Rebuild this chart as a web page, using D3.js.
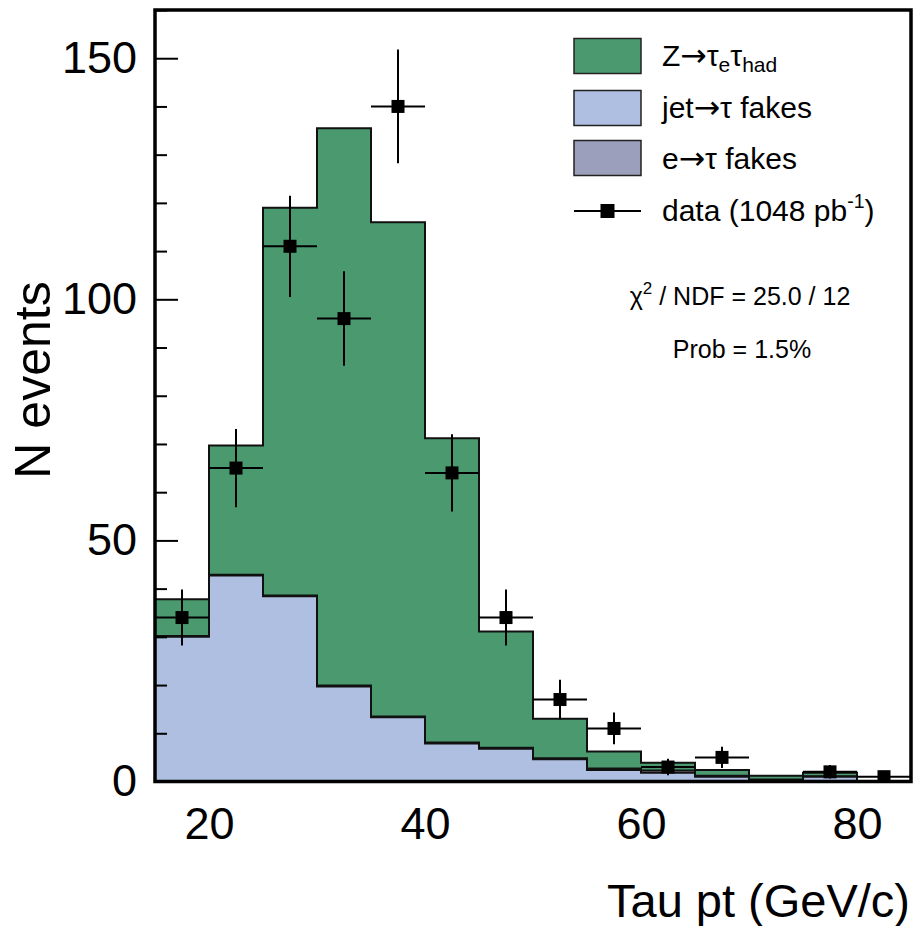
<!DOCTYPE html>
<html>
<head>
<meta charset="utf-8">
<script src="https://cdn.jsdelivr.net/npm/d3@7"></script>
<style>
  html, body { margin: 0; padding: 0; background: #ffffff; }
  svg { display: block; }
  text { font-family: "Liberation Sans", Arial, Helvetica, sans-serif; fill: #000; }
  .arrow { font-family: "DejaVu Sans", sans-serif; }
</style>
</head>
<body>
<svg id="chart" width="916" height="926"></svg>
<script>
// Tau pt spectrum, Z -> tau_e tau_had selection: stacked expectation vs data

// lower bin edges (GeV/c), bins are 5 GeV/c wide
const binLow = [15, 20, 25, 30, 35, 40, 45, 50, 55, 60, 65, 70, 75, 80];
const binWidth = 5;

// stacked expectations, bottom to top
const jetFakes = [30.0, 42.7, 38.4, 19.7, 13.3, 7.9, 6.8, 4.6, 2.4, 1.8, 1.0, 0.3, 1.0, 0.0];
const eFakes   = [0.2, 0.2, 0.2, 0.2, 0.2, 0.2, 0.2, 0.2, 0.3, 0.5, 0.2, 0.1, 0.1, 0.0];
const zTauTau  = [7.6, 26.8, 80.4, 115.6, 102.5, 63.1, 24.1, 8.2, 3.5, 1.6, 1.2, 0.8, 0.7, 0.0];

// observed events and their errors
const dataCounts = [34, 65, 111, 96, 140, 64, 34, 17, 11, 3, 5, 0, 2, 1];
const dataErrors = [5.8, 8.1, 10.5, 9.8, 11.8, 8.0, 5.8, 4.1, 3.3, 1.7, 2.2, 0.0, 1.4, 1.0];

// axis ticks
const xTickLabels = [20, 40, 60, 80];
const yMajorTicks = [0, 50, 100, 150];
const yMinorTicks = [10, 20, 30, 40, 60, 70, 80, 90, 110, 120, 130, 140, 160];

const colors = {
  z: "#4b9a6f",
  jet: "#afbfe1",
  efake: "#9c9fbb",
  line: "#111111"
};

const svg = d3.select("#chart");
const plot = { left: 155, right: 911, top: 10, bottom: 781.5 };

const x = d3.scaleLinear().domain([15, 85]).range([plot.left, plot.right]);
const y = d3.scaleLinear().domain([0, 160]).range([plot.bottom, plot.top]);

svg.append("defs").append("clipPath").attr("id", "plotClip")
  .append("rect")
  .attr("x", plot.left).attr("y", plot.top)
  .attr("width", plot.right - plot.left).attr("height", plot.bottom - plot.top);

const g = svg.append("g").attr("clip-path", "url(#plotClip)");

// cumulative stack heights
const stackJet = jetFakes.map(v => v);
const stackE = jetFakes.map((v, i) => v + eFakes[i]);
const stackTotal = stackE.map((v, i) => v + zTauTau[i]);

function stepPoints(values) {
  const pts = [];
  values.forEach((v, i) => {
    pts.push([binLow[i], v]);
    pts.push([binLow[i] + binWidth, v]);
  });
  return pts;
}

const area = d3.area().x(d => x(d[0])).y0(y(0)).y1(d => y(d[1]));
const line = d3.line().x(d => x(d[0])).y(d => y(d[1]));

[[stackTotal, colors.z], [stackE, colors.efake], [stackJet, colors.jet]].forEach(([vals, fill]) => {
  const pts = stepPoints(vals);
  g.append("path").attr("d", area(pts)).attr("fill", fill).attr("stroke", "none");
  g.append("path").attr("d", line(pts)).attr("fill", "none")
    .attr("stroke", colors.line).attr("stroke-width", 2);
});

// data points with error bars
const pts = g.append("g");
dataCounts.forEach((n, i) => {
  if (n <= 0) return;
  const cx = x(binLow[i] + binWidth / 2);
  const cy = y(n);
  pts.append("line")
    .attr("x1", x(binLow[i])).attr("x2", x(binLow[i] + binWidth))
    .attr("y1", cy).attr("y2", cy)
    .attr("stroke", "#000").attr("stroke-width", 2);
  pts.append("line")
    .attr("x1", cx).attr("x2", cx)
    .attr("y1", y(n - dataErrors[i])).attr("y2", y(n + dataErrors[i]))
    .attr("stroke", "#000").attr("stroke-width", 2);
  pts.append("rect")
    .attr("x", cx - 6.5).attr("y", cy - 6.5)
    .attr("width", 13).attr("height", 13)
    .attr("fill", "#000");
});

// y axis: inward ticks and labels
svg.append("g")
  .attr("transform", `translate(${plot.left},0)`)
  .call(d3.axisRight(y).tickValues(yMinorTicks).tickSize(12).tickFormat(""))
  .call(a => a.select(".domain").remove())
  .call(a => a.selectAll("line").attr("stroke", "#000").attr("stroke-width", 2));
svg.append("g")
  .attr("transform", `translate(${plot.left},0)`)
  .call(d3.axisRight(y).tickValues(yMajorTicks).tickSize(23).tickFormat(""))
  .call(a => a.select(".domain").remove())
  .call(a => a.selectAll("line").attr("stroke", "#000").attr("stroke-width", 2));
svg.append("g")
  .attr("transform", `translate(${plot.left},0)`)
  .call(d3.axisLeft(y).tickValues(yMajorTicks).tickSize(0).tickPadding(18))
  .call(a => a.select(".domain").remove())
  .call(a => a.selectAll("text").attr("font-size", 45).attr("fill", "#000")
    .style("font-family", "'Liberation Sans', Arial, sans-serif"));

// x axis labels
svg.append("g")
  .attr("transform", `translate(0,${plot.bottom})`)
  .call(d3.axisBottom(x).tickValues(xTickLabels).tickSize(0).tickPadding(26))
  .call(a => a.select(".domain").remove())
  .call(a => a.selectAll("text").attr("font-size", 45).attr("fill", "#000")
    .style("font-family", "'Liberation Sans', Arial, sans-serif"));

// frame
svg.append("rect")
  .attr("x", plot.left).attr("y", plot.top)
  .attr("width", plot.right - plot.left).attr("height", plot.bottom - plot.top)
  .attr("fill", "none").attr("stroke", "#000").attr("stroke-width", 3.5);

// axis titles
svg.append("text")
  .attr("transform", `translate(50,380) rotate(-90)`)
  .attr("text-anchor", "middle")
  .attr("font-size", 50)
  .text("N events");
svg.append("text")
  .attr("x", 910).attr("y", 917)
  .attr("text-anchor", "end")
  .attr("font-size", 47)
  .text("Tau pt (GeV/c)");

// legend
const legend = svg.append("g");
const boxX = 574, boxW = 67, boxH = 35, textX = 662;
const rows = [
  { cy: 56, fill: colors.z },
  { cy: 108, fill: colors.jet },
  { cy: 158, fill: colors.efake }
];
rows.forEach(r => {
  legend.append("rect")
    .attr("x", boxX).attr("y", r.cy - boxH / 2)
    .attr("width", boxW).attr("height", boxH)
    .attr("fill", r.fill).attr("stroke", "#222").attr("stroke-width", 1.5);
});
const dataRowY = 211;
legend.append("line")
  .attr("x1", boxX).attr("x2", boxX + boxW)
  .attr("y1", dataRowY).attr("y2", dataRowY)
  .attr("stroke", "#000").attr("stroke-width", 2);
legend.append("rect")
  .attr("x", boxX + boxW / 2 - 7).attr("y", dataRowY - 7)
  .attr("width", 14).attr("height", 14).attr("fill", "#000");

const lfs = 30;
function arrowLabel(sel, before, after) {
  sel.append("tspan").text(before);
  sel.append("tspan").attr("class", "arrow").attr("font-size", lfs * 1.05).text("\u2192");
  sel.append("tspan").text(after);
}
const t1 = legend.append("text").attr("x", textX).attr("y", 66).attr("font-size", lfs);
arrowLabel(t1, "Z", "\u03c4");
t1.append("tspan").attr("font-size", lfs * 0.7).attr("dy", 6).text("e");
t1.append("tspan").attr("dy", -6).text("\u03c4");
t1.append("tspan").attr("font-size", lfs * 0.7).attr("dy", 6).text("had");

const t2 = legend.append("text").attr("x", textX).attr("y", 118).attr("font-size", lfs);
arrowLabel(t2, "jet", "\u03c4 fakes");
const t3 = legend.append("text").attr("x", textX).attr("y", 169).attr("font-size", lfs);
arrowLabel(t3, "e", "\u03c4 fakes");
const t4 = legend.append("text").attr("x", textX).attr("y", 221).attr("font-size", lfs);
t4.append("tspan").text("data (1048 pb");
t4.append("tspan").attr("font-size", lfs * 0.65).attr("dy", -13).text("-1");
t4.append("tspan").attr("dy", 13).text(")");

// fit statistics
const sfs = 25;
const s1 = svg.append("text").attr("x", 740).attr("y", 305)
  .attr("text-anchor", "middle").attr("font-size", sfs);
s1.append("tspan").text("\u03c7");
s1.append("tspan").attr("font-size", 17).attr("dy", -11).text("2");
s1.append("tspan").attr("dy", 11).text(" / NDF = 25.0 / 12");
svg.append("text").attr("x", 742).attr("y", 358)
  .attr("text-anchor", "middle").attr("font-size", sfs)
  .text("Prob = 1.5%");
</script>
</body>
</html>
